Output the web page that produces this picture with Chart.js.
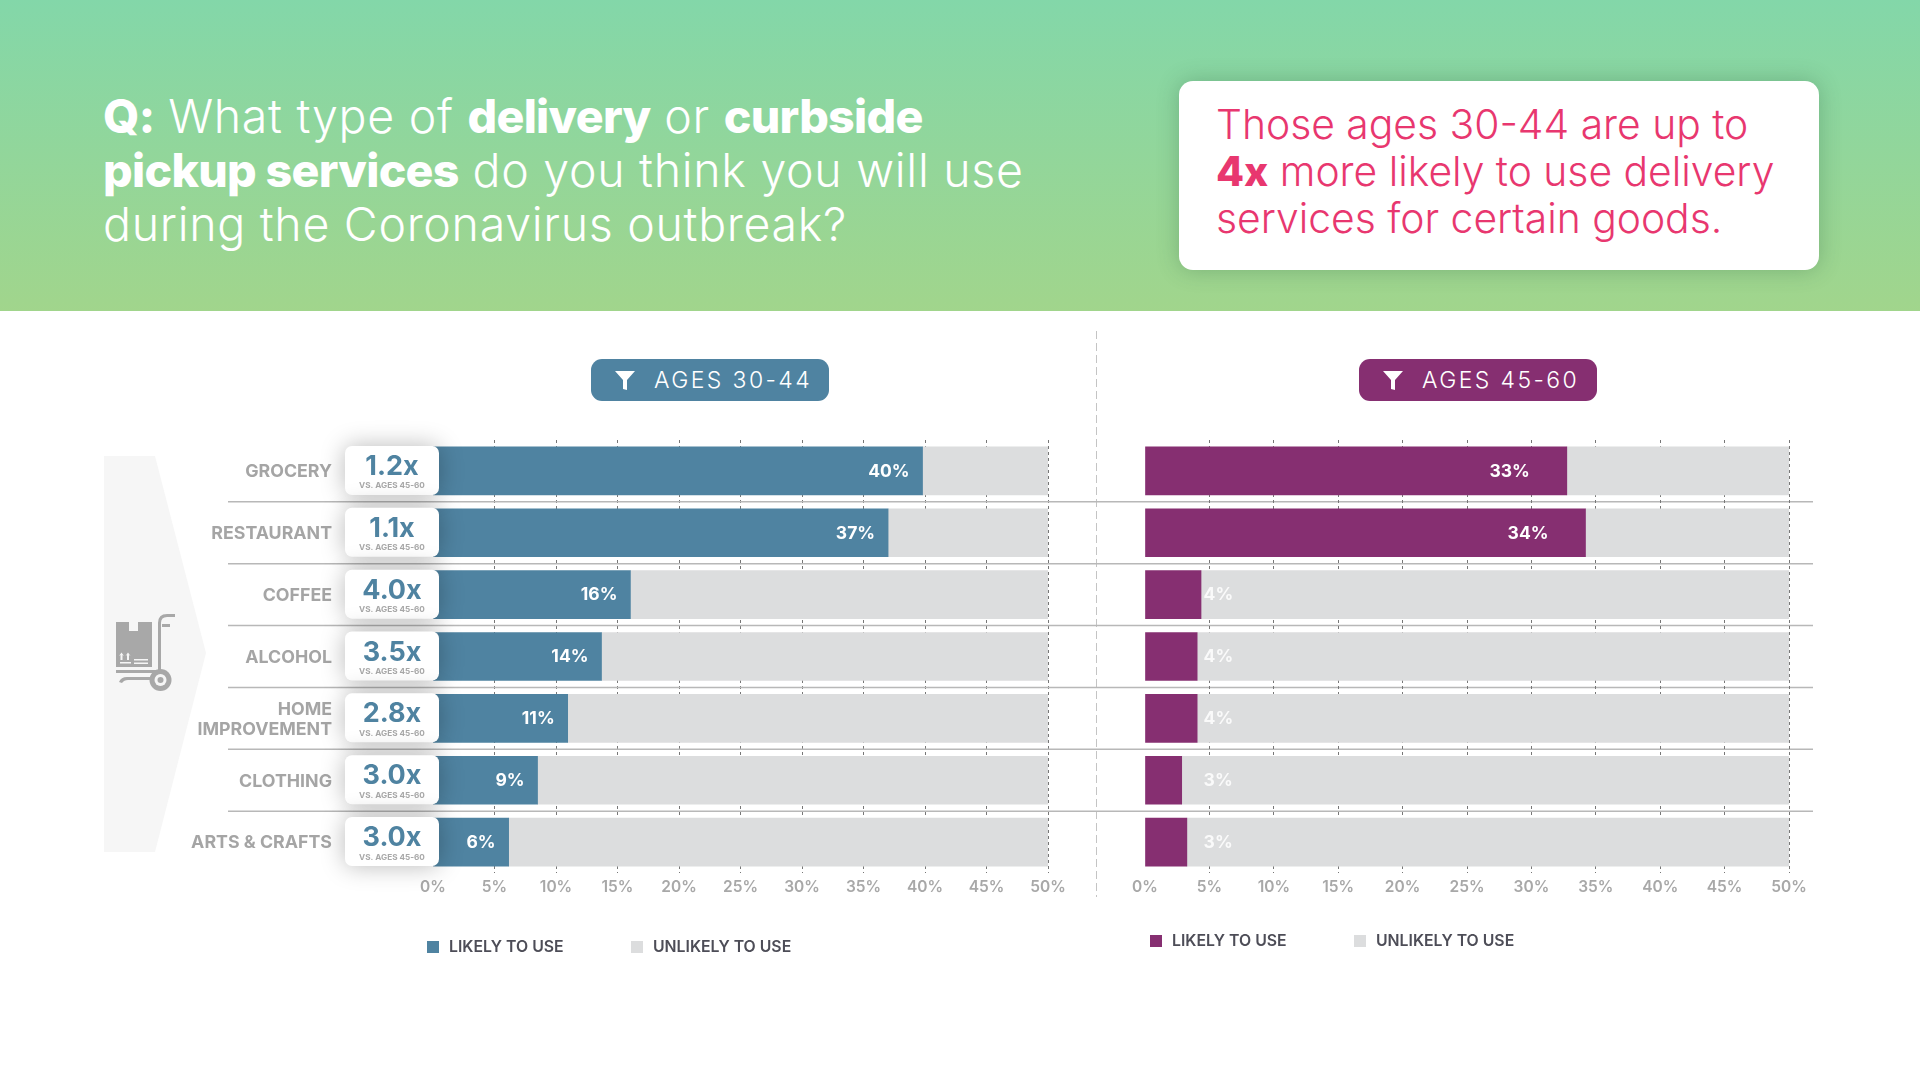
<!DOCTYPE html>
<html>
<head>
<meta charset="utf-8">
<title>Delivery and curbside pickup</title>
<script src="https://cdn.jsdelivr.net/npm/chart.js@4"></script>
<style>
  html, body { margin: 0; padding: 0; background: #fff; }
  body { width: 1920px; height: 1080px; position: relative; overflow: hidden; font-family: Inter, sans-serif; }
  canvas { position: absolute; left: 0; top: 0; }
  .header { position: absolute; left: 0; top: 0; width: 1920px; height: 311px; background: linear-gradient(#83d7a9, #a1d58c); }
  .question { position: absolute; left: 103px; top: 89px; width: 960px; color: #fff; font-size: 46.5px; line-height: 54px; font-weight: 300; letter-spacing: .7px; white-space: nowrap; }
  .question b { font-weight: 800; letter-spacing: -.7px; }
  .callout { position: absolute; left: 1179px; top: 81px; width: 640px; height: 189px; background: #fff; border-radius: 14px; box-shadow: 0 0 22px rgba(40, 90, 60, .3); }
  .callout div { position: absolute; left: 37px; top: 20px; color: #e8376f; font-size: 40.8px; line-height: 47px; font-weight: 300; white-space: nowrap; }
  .callout b { font-weight: 800; }
  .age { position: absolute; top: 359px; height: 42px; width: 238px; border-radius: 11px; color: #fff; font-size: 23px; line-height: 42px; letter-spacing: 2.4px; font-weight: 300; }
  .age svg { position: absolute; left: 23px; top: 11px; }
  .age span { position: absolute; left: 63px; white-space: nowrap; }
  .arrow { position: absolute; left: 104px; top: 456px; }
  .divider { position: absolute; left: 1096px; top: 331px; height: 566px; width: 1px; background: repeating-linear-gradient(#c4c4c4 0 8px, transparent 8px 12px); }
  .legend-item { position: absolute; font-size: 15.8px; font-weight: 600; color: #4d4d57; white-space: nowrap; line-height: 18px; }
  .legend-item i { position: absolute; left: -22px; top: 3px; width: 12px; height: 12px; }
</style>
</head>
<body>
<div class="header"></div>
<div class="question"><b>Q:</b> What type of <b>delivery</b> or <b>curbside</b><br><b>pickup services</b> do you think you will use<br>during the Coronavirus outbreak?</div>
<div class="callout"><div>Those ages 30-44 are up to<br><b>4x</b> more likely to use delivery<br>services for certain goods.</div></div>

<svg class="arrow" width="104" height="398" viewBox="0 0 104 398">
  <polygon points="0,0 51,0 102,197 51,396 0,396" fill="#f6f6f6"/>
  <g transform="translate(-4,134)" fill="#a8a8a8">
    <path d="M16 32h36v45H16z"/>
    <path d="M29 32h9v9h-9z" fill="#f6f6f6"/>
    <path d="M20 72h11v1.5H20zM34 69h14v1.5H34zM34 72.5h14V74H34zM20.5 70v-5l-1.5 1 2.5-3.5 2.5 3.5-1.5-1v5zM27 70v-5l-1.5 1 2.5-3.5 2.5 3.5-1.5-1v5z" fill="#f6f6f6"/>
    <path d="M16 80h42v3H16zM58 80V33q0-9 9-9h8v3h-8q-6 0-6 6v47z"/>
    <path d="M62 34h8v3h-8zM19 92q2-5 8-5h27v3H28q-4 0-6 3z"/>
    <circle cx="60.5" cy="90" r="11"/>
    <circle cx="60.5" cy="90" r="6" fill="#f6f6f6"/>
    <circle cx="60.5" cy="90" r="3"/>
  </g>
</svg>

<div class="divider"></div>

<div class="age" style="left:591px;background:#4f83a1">
  <svg width="22" height="22" viewBox="0 0 22 22"><path d="M1 1h20l-8 9v10l-4-1V10z" fill="#fff"/></svg>
  <span>AGES 30-44</span>
</div>
<div class="age" style="left:1359px;background:#862f71">
  <svg width="22" height="22" viewBox="0 0 22 22"><path d="M1 1h20l-8 9v10l-4-1V10z" fill="#fff"/></svg>
  <span>AGES 45-60</span>
</div>

<canvas id="youngChart" width="1920" height="1080"></canvas>
<canvas id="olderChart" width="1920" height="1080"></canvas>

<script>
const categories = ["GROCERY", "RESTAURANT", "COFFEE", "ALCOHOL", ["HOME", "IMPROVEMENT"], "CLOTHING", "ARTS & CRAFTS"];
const xTickLabels = ["0%", "5%", "10%", "15%", "20%", "25%", "30%", "35%", "40%", "45%", "50%"];
const seriesNames = ["LIKELY TO USE", "UNLIKELY TO USE"];

// bars are cut at 50% in the picture, so the grey part is read up to the axis end
const youngLikely = [39.8, 37.0, 16.05, 13.7, 10.95, 8.5, 6.15];
const youngUnlikely = [10.2, 13.0, 33.95, 36.3, 39.05, 41.5, 43.85];
const olderLikely = [32.75, 34.2, 4.35, 4.05, 4.05, 2.85, 3.25];
const olderUnlikely = [17.25, 15.8, 45.65, 45.95, 45.95, 47.15, 46.75];
const multipliers = ["1.2x", "1.1x", "4.0x", "3.5x", "2.8x", "3.0x", "3.0x"];
const multiplierNote = "VS. AGES 45-60";

const BLUE = "#4f83a1";
const PURPLE = "#862f71";
const GREY = "#dcddde";
const FONT = "Inter, sans-serif";

// white percent labels, near the bar end or at a fixed spot when the bar is too short
const valueLabels = {
    id: "valueLabels",
    afterDatasetsDraw(chart, args, opts) {
        const ctx = chart.ctx;
        const x = chart.scales.x;
        const y = chart.scales.y;
        const values = chart.data.datasets[0].data;
        ctx.save();
        ctx.font = "700 17.5px " + FONT;
        ctx.textBaseline = "middle";
        values.forEach((v, i) => {
            const rowY = y.getPixelForValue(i) + 0.5;
            if (v < 5) {
                ctx.fillStyle = "rgba(255,255,255,0.85)";
                ctx.textAlign = "left";
                ctx.fillText(Math.round(v) + "%", x.getPixelForValue(4.55), rowY);
            } else {
                ctx.fillStyle = "#fff";
                ctx.textAlign = "right";
                ctx.fillText(Math.round(v) + "%", x.getPixelForValue(v) - opts.gap, rowY);
            }
        });
        ctx.restore();
    }
};

// row separators run across both panels
const rowLines = {
    id: "rowLines",
    beforeDatasetsDraw(chart) {
        const ctx = chart.ctx;
        const y = chart.scales.y;
        ctx.save();
        ctx.strokeStyle = "#b8b8b8";
        ctx.lineWidth = 1.5;
        for (let i = 0; i < categories.length - 1; i++) {
            const lineY = (y.getPixelForValue(i) + y.getPixelForValue(i + 1)) / 2;
            ctx.beginPath();
            ctx.moveTo(228, lineY);
            ctx.lineTo(1813, lineY);
            ctx.stroke();
        }
        ctx.restore();
    }
};

// white multiplier badges sitting on the start of the blue bars
const badges = {
    id: "badges",
    afterDatasetsDraw(chart) {
        const ctx = chart.ctx;
        const y = chart.scales.y;
        multipliers.forEach((text, i) => {
            const rowY = y.getPixelForValue(i);
            ctx.save();
            ctx.shadowColor = "rgba(0,0,0,0.28)";
            ctx.shadowBlur = 24;
            ctx.fillStyle = "#fff";
            ctx.beginPath();
            ctx.roundRect(345, rowY - 25, 94, 49, 7);
            ctx.fill();
            ctx.restore();

            ctx.save();
            ctx.textAlign = "center";
            ctx.textBaseline = "middle";
            ctx.fillStyle = BLUE;
            ctx.font = "700 27px " + FONT;
            ctx.fillText(text, 392, rowY - 4);
            ctx.fillStyle = "#a8a8a8";
            ctx.font = "700 8.2px " + FONT;
            ctx.fillText(multiplierNote, 392, rowY + 15);
            ctx.restore();
        });
    }
};

function drawPanel(canvasId, likely, unlikely, color, left, right, showLabels, gap, plugins) {
    const ctx = document.getElementById(canvasId).getContext("2d");
    return new Chart(ctx, {
        type: "bar",
        data: {
            labels: categories,
            datasets: [
                { label: seriesNames[0], data: likely, backgroundColor: color, barThickness: 48 },
                { label: seriesNames[1], data: unlikely, backgroundColor: GREY, barThickness: 48 }
            ]
        },
        options: {
            indexAxis: "y",
            responsive: false,
            animation: false,
            devicePixelRatio: 1,
            layout: { padding: { left: 0, top: 440, right: 1920 - right, bottom: 1080 - 873 - 40 } },
            plugins: {
                legend: { display: false },
                tooltip: { enabled: false },
                valueLabels: { gap: gap }
            },
            scales: {
                x: {
                    stacked: true,
                    min: 0,
                    max: 50,
                    afterFit: s => { s.height = 40; },
                    grid: {
                        drawTicks: false,
                        lineWidth: 1,
                        color: c => (c.tick && c.tick.value === 0 ? "transparent" : "#777")
                    },
                    border: { display: false, dash: [3, 3] },
                    ticks: {
                        stepSize: 5,
                        padding: 5,
                        maxRotation: 0,
                        color: "#a8a8a8",
                        font: { family: FONT, size: 15.5, weight: "600" },
                        callback: (v, i) => xTickLabels[i]
                    }
                },
                y: {
                    stacked: true,
                    afterFit: s => { s.width = left; },
                    grid: { display: false },
                    border: { display: false },
                    ticks: {
                        display: showLabels,
                        padding: 93,
                        labelOffset: 1,
                        color: "#a5a5a5",
                        font: { family: FONT, size: 17.8, weight: "700", lineHeight: 1.12 }
                    }
                }
            }
        },
        plugins: plugins
    });
}

function drawLegend(chart, items) {
    chart.data.datasets.forEach((set, i) => {
        const el = document.createElement("div");
        el.className = "legend-item";
        el.style.left = items[i].x + "px";
        el.style.top = items[i].y + "px";
        el.textContent = set.label;
        const box = document.createElement("i");
        box.style.background = set.backgroundColor;
        el.appendChild(box);
        document.body.appendChild(el);
    });
}

document.addEventListener("DOMContentLoaded", () => {
    const young = drawPanel("youngChart", youngLikely, youngUnlikely, BLUE, 433, 1048, true, 13, [rowLines, valueLabels, badges]);
    const older = drawPanel("olderChart", olderLikely, olderUnlikely, PURPLE, 1145, 1789, false, 37, [valueLabels]);
    drawLegend(young, [{ x: 449, y: 938 }, { x: 653, y: 938 }]);
    drawLegend(older, [{ x: 1172, y: 932 }, { x: 1376, y: 932 }]);
});
</script>
</body>
</html>
